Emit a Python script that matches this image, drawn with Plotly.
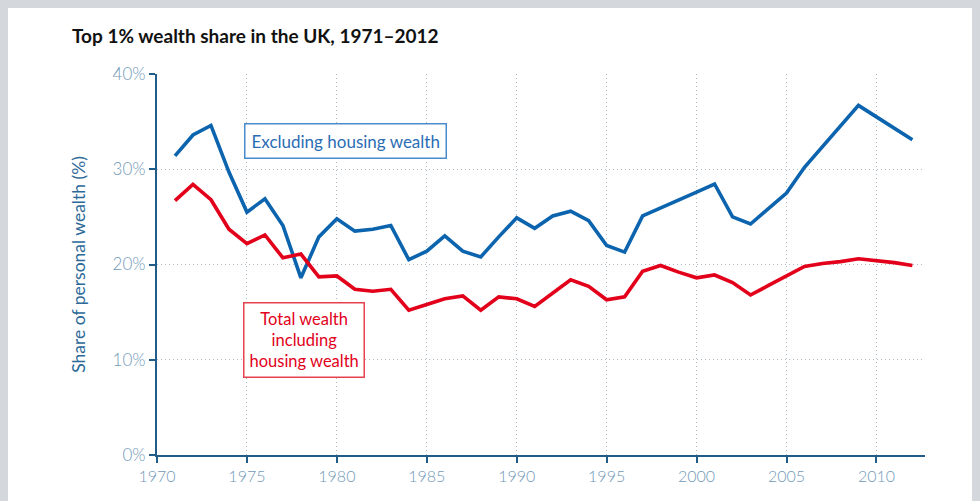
import plotly.graph_objects as go

years = list(range(1971, 2013))

excluding_housing = [31.4, 33.6, 34.6, 29.7, 25.5, 26.9, 24.1, 18.6, 22.9, 24.8,
                     23.5, 23.7, 24.1, 20.5, 21.4, 23.0, 21.4, 20.8, 22.9, 24.9,
                     23.8, 25.1, 25.6, 24.6, 22.0, 21.3, 25.1, 25.9, 26.7, 27.6,
                     28.45, 25.0, 24.25, 25.9, 27.5, 30.2, 32.4, 34.6, 36.7, 35.5,
                     34.3, 33.1]

total_wealth = [26.7, 28.4, 26.8, 23.7, 22.2, 23.1, 20.7, 21.1, 18.7, 18.8,
                17.4, 17.2, 17.4, 15.2, 15.8, 16.4, 16.7, 15.2, 16.6, 16.4,
                15.6, 17.0, 18.4, 17.7, 16.3, 16.6, 19.3, 19.9, 19.2, 18.6,
                18.9, 18.1, 16.8, 17.8, 18.8, 19.8, 20.1, 20.3, 20.6, 20.4,
                20.2, 19.9]

x_ticks = [1970, 1975, 1980, 1985, 1990, 1995, 2000, 2005, 2010]
y_ticks = [0, 10, 20, 30, 40]

blue = "#0b64ad"
red = "#e2001a"
axis_col = "#215d88"
tick_col = "#7299b8"
grid_col = "#afbcc6"

fig = go.Figure()

fig.add_trace(go.Scatter(x=years, y=excluding_housing, mode="lines",
                         line=dict(color=blue, width=3.6), name="Excluding housing wealth"))
fig.add_trace(go.Scatter(x=years, y=total_wealth, mode="lines",
                         line=dict(color=red, width=3.6), name="Total wealth including housing wealth"))

fig.add_annotation(x=1980.5, y=33.0, text="Excluding housing wealth", showarrow=False,
                   font=dict(color="#2a6db5", size=17), bordercolor="#4a8bcb", borderwidth=1.5,
                   borderpad=6, bgcolor="white")
fig.add_annotation(x=1978.2, y=12.1, text="Total wealth<br>including<br>housing wealth",
                   showarrow=False, font=dict(color=red, size=16.5), bordercolor="#e8404f",
                   borderwidth=1.5, borderpad=5, bgcolor="white")

fig.update_layout(
    width=980, height=501,
    margin=dict(l=149, r=63, t=66, b=54),
    paper_bgcolor="white",
    plot_bgcolor="white",
    font=dict(family="Lato, 'Open Sans', sans-serif"),
    showlegend=False,
    title=dict(text="<b>Top 1% wealth share in the UK, 1971–2012</b>",
               x=64 / 980, xanchor="left", xref="container",
               y=1 - 28 / 501, yanchor="middle", yref="container",
               font=dict(size=19, color="#111111")),
)

fig.update_xaxes(range=[1970, 2012.7], tickvals=x_ticks, ticks="outside", ticklen=6,
                 tickcolor=axis_col, tickwidth=2, showline=True, linecolor=axis_col,
                 linewidth=2, showgrid=True, gridcolor=grid_col, griddash="1px,3px",
                 gridwidth=1, zeroline=False,
                 tickfont=dict(size=16, color=tick_col, weight=300))

fig.update_yaxes(range=[0, 40], tickvals=y_ticks, ticktext=[f"{v}%" for v in y_ticks],
                 ticks="outside", ticklen=6, tickcolor=axis_col, tickwidth=2,
                 showline=True, linecolor=axis_col, linewidth=2, showgrid=True,
                 gridcolor=grid_col, griddash="1px,3px", gridwidth=1, zeroline=False,
                 tickfont=dict(size=17, color=tick_col, weight=300),
                 title=dict(text="Share of personal wealth (%)", standoff=22,
                            font=dict(size=17.5, color="#2d6a98")))

# grey page background shows in the body margin, like the reference's frame
fig.write_html("out.html", post_script="document.body.style.background='#d4d8dc';")
